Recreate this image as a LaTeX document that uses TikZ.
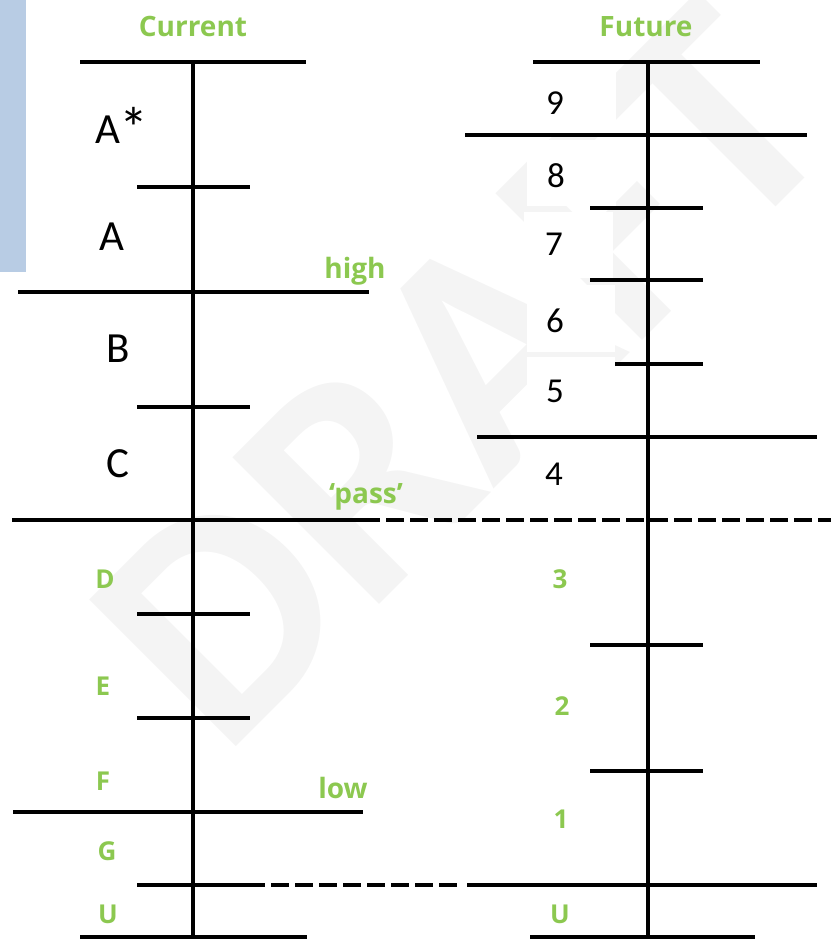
\documentclass[tikz,border=0pt]{standalone}
\usepackage{fontspec}
\setmainfont{Carlito}
\newfontfamily\greenfont{Open Sans}
\definecolor{lg}{RGB}{140,200,80}
\definecolor{blueish}{RGB}{184,204,228}
\begin{document}
\begin{tikzpicture}[x=1pt,y=-1pt,
  bar/.style={line width=4.5pt, black},
  dashbar/.style={line width=4.5pt, black, dash pattern=on 18pt off 6pt},
  glab/.style={text=lg, font=\greenfont\bfseries\fontsize{28}{28}\selectfont, inner sep=0, anchor=base},
  gchar/.style={text=lg, font=\greenfont\bfseries\fontsize{26}{26}\selectfont, inner sep=0, anchor=base},
  blab/.style={font=\fontsize{43}{43}\selectfont, inner sep=0, anchor=base},
  dlab/.style={font=\fontsize{35}{35}\selectfont, inner sep=0, anchor=base},
  wbox/.style={fill=white, draw=none},
]
\useasboundingbox (0,0) rectangle (831,939);
% watermark
\begin{scope}
\clip (0,0) rectangle (831,939);
\node[rotate=45, text=gray!9, font=\bfseries\fontsize{320}{320}\selectfont, inner sep=0] (wm) at (462,375) {DRAFT};
\end{scope}
\fill[blueish] (0,0) rectangle (26,272);
% white label boxes
\fill[wbox] (80,95) rectangle (180,165);
\fill[wbox] (80,200) rectangle (180,270);
\fill[wbox] (80,320) rectangle (180,390);
\fill[wbox] (80,430) rectangle (180,498);
\fill[wbox] (527,68) rectangle (616,133);
\fill[wbox] (527,140) rectangle (616,206);
\fill[wbox] (524,212) rectangle (613,278);
\fill[wbox] (527,285) rectangle (615,352);
\fill[wbox] (527,357) rectangle (615,423);
\fill[wbox] (527,440) rectangle (615,505);
% left scale
\draw[bar] (80,62) -- (306,62);
\draw[bar] (193,62) -- (193,939);
\draw[bar] (137,187) -- (250,187);
\draw[bar] (18,292) -- (369,292);
\draw[bar] (137,407) -- (250,407);
\draw[bar] (12,520) -- (380,520);
\draw[dashbar] (386,520) -- (831,520);
\draw[bar] (137,614) -- (250,614);
\draw[bar] (137,718) -- (250,718);
\draw[bar] (13,812) -- (363,812);
\draw[bar] (137,885) -- (265,885);
\draw[dashbar] (271,885) -- (460,885);
\draw[bar] (467,885) -- (817,885);
\draw[bar] (80,937) -- (307,937);
% right scale
\draw[bar] (533,62) -- (760,62);
\draw[bar] (648,62) -- (648,939);
\draw[bar] (465,135) -- (807,135);
\draw[bar] (590,208) -- (703,208);
\draw[bar] (590,280) -- (703,280);
\draw[bar] (615,364) -- (703,364);
\draw[bar] (477,437) -- (817,437);
\draw[bar] (590,645) -- (703,645);
\draw[bar] (590,771) -- (703,771);
\draw[bar] (530,937) -- (755,937);
% green labels
\node[glab] (cur) at (193,37) {Current};
\node[glab] (fut) at (646,37) {Future};
\node[glab] (high) at (355,278) {high};
\node[glab] (pass) at (366,503) {‘pass’};
\node[glab] (low) at (343,798) {low};
\node[gchar] (lD) at (105,588) {D};
\node[gchar] (lE) at (103,695) {E};
\node[gchar] (lF) at (103,790) {F};
\node[gchar] (lG) at (107,860) {G};
\node[gchar] (lU) at (108,923) {U};
\node[gchar] (r3) at (560,588) {3};
\node[gchar] (r2) at (562,715) {2};
\node[gchar] (r1) at (561,828) {1};
\node[gchar] (rU) at (560,923) {U};
% black labels
\node[blab] (Astar) at (122,143) {A\raisebox{-5pt}{\fontsize{58}{58}\selectfont*}};
\node[blab] (lA) at (112,250) {A};
\node[blab] (lB) at (118,362) {B};
\node[blab] (lC) at (118,477) {C};
\node[dlab] (r9) at (555,115) {9};
\node[dlab] (r8) at (556,187) {8};
\node[dlab] (r7) at (554,255) {7};
\node[dlab] (r6) at (555,332) {6};
\node[dlab] (r5) at (555,402) {5};
\node[dlab] (r4) at (554,485) {4};
\end{tikzpicture}
\end{document}
